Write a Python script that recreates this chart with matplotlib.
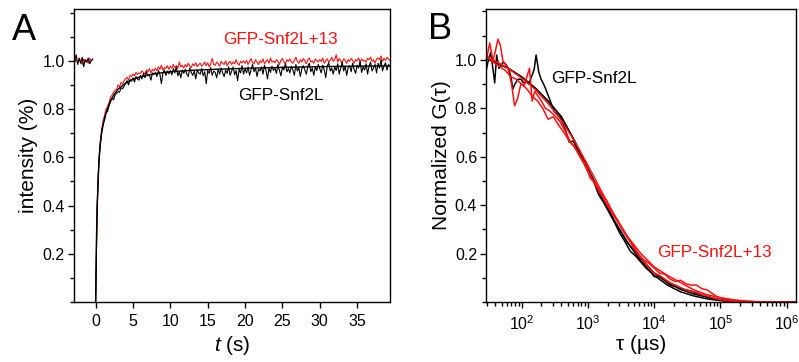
import numpy as np
import matplotlib
matplotlib.use("Agg")
import matplotlib.pyplot as plt
from matplotlib.ticker import MultipleLocator, LogLocator, NullFormatter

plt.rcParams['font.family'] = ['Liberation Sans', 'DejaVu Sans']
plt.rcParams['mathtext.fontset'] = 'custom'
plt.rcParams['mathtext.rm'] = 'Liberation Sans'
plt.rcParams['mathtext.it'] = 'Liberation Sans:italic'

ROJO = '#ff1010'

# ---- panel A: FRAP, valores em milesimos, passo de 0.2 s ----
passo_a = 0.2
t_pre_inicio = -2.8
pre_preto = [1000, 1025, 985, 1010, 990, 1015, 975, 1005, 995, 1012, 988, 1000, 1008]
pre_vermelho = [995, 1005, 992, 1012, 998, 985, 1008, 995, 1002, 990, 1010, 1000, 1005]

frap_preto = [
    0, 385, 560, 648, 705, 738, 755, 785, 790, 815,
    832, 845, 838, 860, 866, 872, 870, 889, 884, 895,
    905, 918, 900, 922, 915, 930, 912, 935, 925, 920,
    940, 925, 948, 930, 955, 938, 942, 920, 950, 945,
    952, 935, 960, 944, 905, 950, 962, 940, 958, 946,
    960, 942, 968, 950, 975, 938, 955, 930, 962, 948,
    965, 945, 935, 970, 952, 940, 958, 925, 962, 950,
    945, 968, 938, 955, 905, 960, 948, 972, 940, 958,
    952, 930, 965, 945, 970, 950, 935, 962, 948, 975,
    940, 958, 975, 942, 960, 918, 965, 950, 980, 945,
    968, 950, 975, 940, 962, 985, 955, 970, 935, 965,
    958, 975, 945, 982, 960, 925, 970, 952, 978, 960,
    970, 948, 985, 960, 938, 975, 962, 990, 955, 968,
    950, 978, 962, 940, 985, 958, 972, 935, 968, 980,
    962, 945, 978, 990, 955, 970, 940, 975, 960, 985,
    968, 950, 982, 962, 930, 978, 992, 958, 970, 945,
    975, 960, 988, 945, 970, 995, 958, 978, 940, 972,
    980, 955, 990, 965, 948, 982, 970, 998, 952, 975,
    962, 988, 945, 978, 995, 958, 972, 985, 950, 990,
    970, 1005, 958, 980, 992, 962, 985, 975, 990, 968,
]
frap_vermelho = [
    0, 400, 570, 662, 718, 752, 775, 800, 812, 828,
    850, 858, 870, 878, 880, 900, 892, 910, 905, 918,
    925, 932, 920, 940, 935, 945, 938, 952, 944, 950,
    948, 958, 952, 945, 962, 955, 968, 950, 965, 958,
    970, 960, 975, 965, 982, 962, 972, 968, 980, 965,
    978, 970, 985, 972, 980, 968, 995, 975, 982, 970,
    985, 975, 990, 978, 972, 988, 980, 992, 976, 985,
    990, 978, 985, 995, 980, 992, 975, 988, 1010, 985,
    982, 995, 988, 978, 998, 990, 985, 1000, 980, 992,
    998, 985, 995, 988, 1005, 990, 982, 998, 992, 1000,
    990, 1002, 985, 998, 1010, 992, 988, 1005, 995, 985,
    1000, 992, 1008, 988, 998, 1005, 990, 1012, 995, 1000,
    992, 1005, 998, 985, 1002, 1010, 995, 988, 1005, 998,
    1008, 995, 990, 1002, 1015, 998, 990, 1005, 995, 1010,
    1000, 988, 1005, 1012, 995, 1000, 990, 1008, 1002, 995,
    1005, 998, 1012, 990, 1000, 1008, 995, 1002, 1015, 998,
    1005, 1025, 995, 1010, 1000, 992, 1008, 1002, 990, 1005,
    998, 1010, 1002, 990, 1005, 1000, 1012, 995, 1008, 1000,
    1002, 995, 1010, 1005, 1015, 998, 1005, 990, 1008, 1012,
    1005, 1020, 998, 1010, 1002, 1015, 1008, 1000, 1012, 1005,
]
t_ajuste_a = [0, 0.1, 0.2, 0.3, 0.4, 0.5, 0.6, 0.8, 1.0, 1.25, 1.5, 2, 2.5, 3,
              4, 5, 6, 8, 10, 13, 16, 20, 25, 30, 35, 39.4]
ajuste_a = [0, 0.25, 0.39, 0.48, 0.55, 0.61, 0.65, 0.70, 0.735, 0.77, 0.795,
            0.835, 0.862, 0.882, 0.908, 0.924, 0.934, 0.947, 0.955, 0.961,
            0.965, 0.969, 0.973, 0.976, 0.978, 0.979]

# ---- panel B: FCS, log10(tau em us) e G normalizado ----
log_tau_preto = [1.47, 1.50, 1.535, 1.565, 1.595, 1.625, 1.66, 1.69, 1.72, 1.75,
                 1.78, 1.81, 1.84, 1.87, 1.90, 1.945, 1.99, 2.03, 2.07, 2.11,
                 2.15, 2.19, 2.22, 2.26, 2.295, 2.35, 2.42, 2.495, 2.575, 2.65,
                 2.72, 2.78, 2.85, 2.92, 3.0, 3.08, 3.16, 3.24, 3.32, 3.40,
                 3.48, 3.56, 3.64, 3.72, 3.80, 3.88, 3.96, 4.0, 4.08, 4.16,
                 4.24, 4.32, 4.40, 4.48, 4.56, 4.64, 4.72, 4.80, 4.88, 4.96,
                 5.04, 5.12, 5.2]
g_preto = [0.96, 1.00, 1.03, 0.97, 0.905, 1.02, 0.965, 0.975, 0.99, 0.985,
           0.975, 0.96, 0.93, 0.88, 0.90, 0.92, 0.92, 0.905, 0.91, 0.90,
           0.93, 0.96, 1.02, 0.95, 0.92, 0.89, 0.84, 0.785, 0.77, 0.72,
           0.66, 0.665, 0.625, 0.585, 0.54, 0.505, 0.445, 0.41, 0.37, 0.33,
           0.285, 0.25, 0.21, 0.19, 0.165, 0.14, 0.12, 0.105, 0.105, 0.09,
           0.07, 0.065, 0.055, 0.05, 0.045, 0.035, 0.03, 0.02, 0.015, 0.01,
           0.006, 0.003, 0.001]

log_tau_verm1 = [1.47, 1.52, 1.57, 1.645, 1.68, 1.72, 1.76, 1.80, 1.85, 1.895,
                 1.94, 1.99, 2.045, 2.08, 2.12, 2.16, 2.20, 2.25, 2.30, 2.36,
                 2.42, 2.50, 2.58, 2.66, 2.74, 2.80, 2.88, 2.96, 3.04, 3.12,
                 3.20, 3.28, 3.36, 3.44, 3.52, 3.60, 3.68, 3.76, 3.84, 3.92,
                 4.0, 4.08, 4.16, 4.24, 4.32, 4.40, 4.48, 4.56, 4.64, 4.72,
                 4.80, 4.88, 4.96, 5.04, 5.12, 5.2, 5.3, 5.4]
g_verm1 = [1.00, 1.07, 0.995, 1.085, 1.06, 0.995, 0.98, 0.96, 0.90, 0.81,
           0.84, 0.90, 0.895, 0.93, 0.965, 0.83, 0.87, 0.85, 0.83, 0.80,
           0.79, 0.77, 0.745, 0.705, 0.66, 0.64, 0.60, 0.565, 0.51, 0.49,
           0.45, 0.42, 0.37, 0.34, 0.30, 0.265, 0.235, 0.20, 0.175, 0.16,
           0.14, 0.12, 0.115, 0.095, 0.085, 0.09, 0.075, 0.07, 0.07, 0.055,
           0.05, 0.035, 0.02, 0.015, 0.01, 0.006, 0.003, 0.001]

log_tau_verm2 = [1.47, 1.53, 1.60, 1.68, 1.76, 1.84, 1.92, 2.0, 2.08, 2.16,
                 2.24, 2.32, 2.40, 2.48, 2.56, 2.64, 2.72, 2.80, 2.88, 2.96,
                 3.04, 3.12, 3.20, 3.28, 3.36, 3.44, 3.52, 3.60, 3.68, 3.76,
                 3.84, 3.92, 4.0, 4.08, 4.16, 4.24, 4.32, 4.40, 4.48, 4.56,
                 4.64, 4.72, 4.80, 4.88, 4.96, 5.04, 5.12, 5.2, 5.3]
g_verm2 = [1.02, 1.00, 0.985, 0.97, 0.955, 0.93, 0.92, 0.90, 0.88, 0.85,
           0.83, 0.80, 0.755, 0.765, 0.73, 0.70, 0.665, 0.64, 0.605, 0.57,
           0.52, 0.48, 0.445, 0.405, 0.37, 0.335, 0.30, 0.265, 0.23, 0.195,
           0.17, 0.14, 0.12, 0.11, 0.095, 0.08, 0.07, 0.06, 0.05, 0.045,
           0.04, 0.03, 0.025, 0.018, 0.012, 0.008, 0.005, 0.003, 0.001]

log_tau_ajuste = [1.47, 1.6, 1.8, 2.0, 2.2, 2.4, 2.6, 2.8, 3.0, 3.2, 3.4, 3.6,
                  3.8, 4.0, 4.2, 4.4, 4.6, 4.8, 5.0, 5.2, 5.4, 5.6, 6.14]
ajuste_preto1 = [1.005, 0.99, 0.965, 0.93, 0.885, 0.83, 0.765, 0.665, 0.55,
                 0.44, 0.335, 0.245, 0.18, 0.12, 0.08, 0.052, 0.033, 0.02,
                 0.01, 0.005, 0.002, 0.0005, 0.0]
ajuste_preto2 = [1.005, 0.99, 0.965, 0.93, 0.885, 0.83, 0.765, 0.665, 0.55,
                 0.44, 0.335, 0.245, 0.17, 0.11, 0.07, 0.042, 0.025, 0.013,
                 0.006, 0.002, 0.0, 0.0, 0.0]
ajuste_verm = [1.01, 0.995, 0.965, 0.925, 0.88, 0.82, 0.75, 0.665, 0.565,
               0.46, 0.36, 0.27, 0.20, 0.145, 0.11, 0.08, 0.05, 0.03, 0.018,
               0.009, 0.004, 0.001, 0.0]


def estilo_eixo(ax):
    for s in ax.spines.values():
        s.set_linewidth(1.0)
    ax.tick_params(which='both', direction='out', top=False, right=False,
                   labelsize=11.5, width=1.0)
    ax.tick_params(which='major', length=4.5)
    ax.tick_params(which='minor', length=3)
    ax.tick_params(axis='y', pad=2)
    ax.tick_params(axis='x', pad=4)


fig = plt.figure(figsize=(7.99, 3.62), dpi=100)
ax_a = fig.add_axes([0.0926, 0.1657, 0.3955, 0.8094])
ax_b = fig.add_axes([0.6086, 0.1657, 0.3876, 0.8094])

# painel A
t_pre = t_pre_inicio + passo_a * np.arange(len(pre_preto))
t_frap = passo_a * np.arange(len(frap_preto))
ax_a.plot(t_pre, np.array(pre_vermelho) / 1000, color=ROJO, lw=0.8)
ax_a.plot(t_frap, np.array(frap_vermelho) / 1000, color=ROJO, lw=0.8)
ax_a.plot(t_pre, np.array(pre_preto) / 1000, color='black', lw=0.8)
ax_a.plot(t_frap, np.array(frap_preto) / 1000, color='black', lw=0.8)
ax_a.plot(t_ajuste_a, ajuste_a, color='black', lw=1.0)
ax_a.set_xlim(-2.9, 39.4)
ax_a.set_ylim(0, 1.215)
ax_a.set_xticks([0, 5, 10, 15, 20, 25, 30, 35])
ax_a.set_yticks([0.2, 0.4, 0.6, 0.8, 1.0])
ax_a.yaxis.set_minor_locator(MultipleLocator(0.1))
estilo_eixo(ax_a)
ax_a.set_xlabel(r'$\it{t}$ (s)', fontsize=15, labelpad=4)
ax_a.set_ylabel('intensity (%)', fontsize=15, labelpad=3)
ax_a.text(17.07, 1.069, 'GFP-Snf2L+13', color=ROJO, fontsize=12.3,
          va='baseline', ha='left')
ax_a.text(19.08, 0.838, 'GFP-Snf2L', color='black', fontsize=12.3,
          va='baseline', ha='left')

# painel B
ax_b.set_xscale('log')
ax_b.plot(10 ** np.array(log_tau_ajuste), ajuste_preto1, color='black', lw=1.1)
ax_b.plot(10 ** np.array(log_tau_ajuste), ajuste_preto2, color='black', lw=1.1)
ax_b.plot(10 ** np.array(log_tau_preto), g_preto, color='black', lw=1.1)
ax_b.plot(10 ** np.array(log_tau_ajuste), ajuste_verm, color=ROJO, lw=1.1)
ax_b.plot(10 ** np.array(log_tau_verm2), g_verm2, color=ROJO, lw=1.1)
ax_b.plot(10 ** np.array(log_tau_verm1), g_verm1, color=ROJO, lw=1.1)
ax_b.set_xlim(10 ** 1.468, 10 ** 6.14)
ax_b.set_ylim(0, 1.21)
ax_b.set_yticks([0.2, 0.4, 0.6, 0.8, 1.0])
ax_b.yaxis.set_minor_locator(MultipleLocator(0.1))
ax_b.xaxis.set_major_locator(LogLocator(base=10, numticks=10))
ax_b.xaxis.set_minor_locator(LogLocator(base=10, subs=np.arange(2, 10), numticks=10))
ax_b.xaxis.set_minor_formatter(NullFormatter())
estilo_eixo(ax_b)
ax_b.set_xlabel('τ (µs)', fontsize=15, labelpad=2)
ax_b.set_ylabel('Normalized G(τ)', fontsize=15, labelpad=3)
ax_b.text(282, 0.906, 'GFP-Snf2L', color='black', fontsize=12.3,
          va='baseline', ha='left')
ax_b.text(11200, 0.184, 'GFP-Snf2L+13', color=ROJO, fontsize=12.3,
          va='baseline', ha='left')

fig.text(0.015, 0.89, 'A', fontsize=26, va='baseline', ha='left')
fig.text(0.536, 0.891, 'B', fontsize=26, va='baseline', ha='left')

fig.savefig('out.png', dpi=100)
